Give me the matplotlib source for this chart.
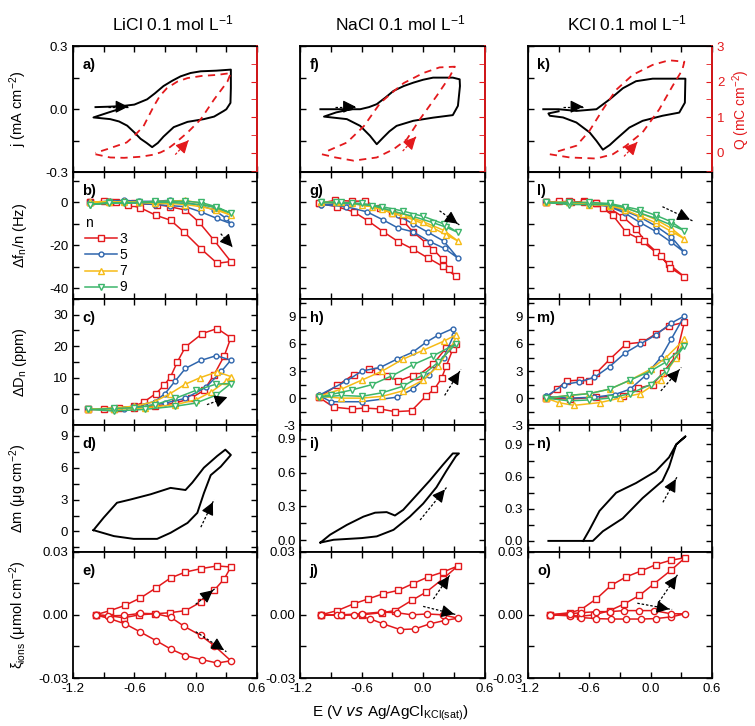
import numpy as np
import matplotlib.pyplot as plt
from matplotlib.ticker import MultipleLocator, FormatStrFormatter

plt.rcParams['font.family'] = ['Liberation Sans', 'DejaVu Sans']
plt.rcParams['mathtext.default'] = 'regular'
plt.rcParams['axes.unicode_minus'] = False

# ---------------- data (E in V) ----------------
salts = ['LiCl', 'NaCl', 'KCl']

# row a: current density j (black) and charge Q (red dashed)
li_j = [(-0.98, 0.010), (-0.85, 0.012), (-0.72, 0.015), (-0.60, 0.022), (-0.475, 0.047), (-0.40, 0.075),
        (-0.315, 0.11), (-0.23, 0.135), (-0.148, 0.156), (-0.05, 0.172), (0.049, 0.18), (0.20, 0.183),
        (0.344, 0.188), (0.344, 0.10), (0.34, 0.03), (0.30, 0.0), (0.275, -0.008), (0.18, -0.035),
        (0.08, -0.047), (-0.08, -0.06), (-0.215, -0.085), (-0.315, -0.13), (-0.37, -0.16), (-0.426, -0.18),
        (-0.48, -0.16), (-0.54, -0.14), (-0.60, -0.11), (-0.67, -0.078), (-0.75, -0.058), (-0.836, -0.047),
        (-1.0, -0.039), (-0.85, -0.015), (-0.72, 0.005)]
na_j = [(-1.005, 0.0), (-0.80, 0.0), (-0.616, 0.0), (-0.53, 0.01), (-0.454, 0.024), (-0.37, 0.055),
        (-0.29, 0.087), (-0.19, 0.11), (-0.097, 0.126), (0.0, 0.14), (0.097, 0.15), (0.29, 0.15),
        (0.357, 0.142), (0.36, 0.11), (0.34, 0.016), (0.29, -0.028), (0.097, -0.04), (-0.097, -0.055),
        (-0.26, -0.079), (-0.33, -0.105), (-0.39, -0.134), (-0.454, -0.166), (-0.52, -0.126),
        (-0.616, -0.079), (-0.746, -0.047), (-0.97, -0.035), (-0.85, -0.015), (-0.70, 0.0)]
k_j = [(-1.05, 0.0), (-0.90, 0.0), (-0.726, -0.008), (-0.53, 0.0), (-0.40, 0.047), (-0.27, 0.10),
       (-0.143, 0.133), (0.02, 0.145), (0.34, 0.145), (0.335, 0.031), (0.28, -0.016), (0.116, -0.031),
       (-0.078, -0.055), (-0.208, -0.087), (-0.337, -0.142), (-0.40, -0.17), (-0.467, -0.192),
       (-0.53, -0.15), (-0.597, -0.11), (-0.726, -0.063), (-0.857, -0.039), (-0.986, -0.031),
       (-1.0, -0.02), (-0.90, -0.01)]

li_Q = [(-0.98, -0.04), (-0.836, -0.13), (-0.70, -0.14), (-0.54, -0.11), (-0.43, -0.06), (-0.345, 0.01),
        (-0.28, 0.10), (-0.215, 0.24), (-0.08, 0.57), (0.049, 0.94), (0.18, 1.5), (0.31, 2.0),
        (0.344, 2.24), (0.21, 2.19), (0.06, 2.16), (-0.08, 2.1), (-0.18, 2.0), (-0.28, 1.82),
        (-0.35, 1.6), (-0.41, 1.31), (-0.51, 0.75), (-0.60, 0.48), (-0.676, 0.29), (-0.87, 0.1), (-0.98, 0.0)]
na_Q = [(-0.99, -0.04), (-0.857, -0.13), (-0.68, -0.22), (-0.454, -0.13), (-0.29, 0.1), (-0.16, 0.38),
        (-0.033, 0.94), (0.13, 1.59), (0.26, 2.14), (0.31, 2.42), (0.16, 2.4), (0.0, 2.24), (-0.19, 1.96),
        (-0.30, 1.7), (-0.42, 1.4), (-0.58, 0.75), (-0.746, 0.29), (-0.97, 0.01)]
k_Q = [(-0.986, -0.04), (-0.79, -0.13), (-0.53, -0.16), (-0.37, -0.04), (-0.24, 0.2), (-0.08, 0.57),
       (0.084, 1.22), (0.213, 1.87), (0.31, 2.33), (0.33, 2.56), (0.18, 2.6), (0.02, 2.47),
       (-0.175, 2.19), (-0.337, 1.77), (-0.467, 1.22), (-0.60, 0.61), (-0.726, 0.2), (-0.92, 0.03)]

# row b: frequency shift per overtone n = 3, 5, 7, 9
li_f3 = [(-1.03, 0), (-0.9, 0.5), (-0.78, 0), (-0.66, -1), (-0.54, -2.5), (-0.39, -6), (-0.246, -8.3),
         (-0.115, -13.8), (0.05, -21.6), (0.21, -28.4), (0.344, -27.6), (0.18, -17.7), (0.03, -9.1),
         (-0.1, -3.6), (-0.25, -2), (-0.38, -1), (-0.6, -0.5), (-0.84, 0), (-1.03, 0)]
li_f5 = [(-1.03, 0), (-0.85, 0.5), (-0.7, 0), (-0.55, -0.5), (-0.4, -1), (-0.25, -1.5), (-0.1, -2),
         (0.05, -4.4), (0.21, -7.5), (0.344, -9.9), (0.3, -7.5), (0.18, -3.5), (0.05, -1.5), (-0.1, 0),
         (-0.25, 1), (-0.4, 0.5), (-0.55, 0.5), (-0.7, 1), (-0.85, 0.5), (-1.03, 0)]
li_f7 = [(-1.03, 0), (-0.85, 0), (-0.7, 0.5), (-0.55, 0), (-0.4, -0.5), (-0.25, -0.5), (-0.1, -1),
         (0.05, -2), (0.2, -3.5), (0.344, -6), (0.2, -2.5), (0.05, -0.5), (-0.1, 1), (-0.25, 0.5),
         (-0.4, 0.5), (-0.55, 0), (-0.7, 0), (-0.85, 0.5), (-1.03, 0)]
li_f9 = [(-1.03, -1), (-0.85, 0), (-0.7, -0.5), (-0.55, 0), (-0.4, 0), (-0.25, 0), (-0.1, -0.5),
         (0.05, -1), (0.2, -2.5), (0.344, -5), (0.2, -2), (0.05, 0), (-0.1, 0.5), (-0.25, 0.5),
         (-0.4, 0.5), (-0.55, 0), (-0.7, 0), (-0.85, -0.5), (-1.03, -1)]
na_f3 = [(-1.02, -0.5), (-0.84, -2), (-0.68, -4.4), (-0.536, -8.7), (-0.39, -13.7), (-0.244, -18.3),
         (-0.1, -21.8), (0.05, -26), (0.194, -29.9), (0.32, -34.5), (0.25, -31), (0.19, -26.5),
         (0.1, -22), (0.03, -19), (-0.1, -13.7), (-0.195, -8.7), (-0.3, -5), (-0.42, -2.8),
         (-0.57, 0.6), (-0.7, 0.6), (-0.86, 1), (-1.02, -0.5)]
na_f5 = [(-1.0, -1), (-0.75, -2), (-0.55, -4.4), (-0.39, -8.2), (-0.244, -12), (-0.1, -13.7),
         (0.065, -18.3), (0.21, -21.5), (0.34, -26), (0.2, -18), (0.05, -14), (-0.1, -10), (-0.25, -6),
         (-0.4, -3), (-0.6, -1), (-0.8, -0.5), (-1.0, -1)]
na_f7 = [(-1.0, 0), (-0.85, 0), (-0.7, -0.5), (-0.5, -2), (-0.3, -5), (-0.1, -8), (0.1, -12),
         (0.22, -15), (0.34, -18), (0.2, -13), (0.0, -9), (-0.2, -5.5), (-0.4, -3), (-0.6, -1),
         (-0.8, 0), (-1.0, 0)]
na_f9 = [(-1.0, 0), (-0.85, 0), (-0.7, -0.5), (-0.5, -1.5), (-0.3, -4), (-0.1, -6.5), (0.1, -9.5),
         (0.22, -11.5), (0.34, -14), (0.2, -10), (0.0, -6.5), (-0.2, -4), (-0.4, -2), (-0.6, -0.5),
         (-0.8, 0), (-1.0, 0)]
k_f3 = [(-1.02, 0), (-0.9, 0.5), (-0.78, 0), (-0.65, 0.5), (-0.53, -0.5), (-0.47, -2.8), (-0.37, -6),
        (-0.24, -13.9), (-0.11, -17), (0.05, -23.3), (0.18, -28.8), (0.33, -34.7), (0.19, -30.5),
        (0.1, -25), (-0.06, -18), (-0.14, -12.2), (-0.27, -6.8), (-0.4, -2.8), (-0.53, -0.5),
        (-0.65, 0), (-0.8, 0.5), (-1.02, 0)]
k_f5 = [(-1.02, 0), (-0.8, -0.5), (-0.6, -0.5), (-0.4, -2), (-0.25, -5), (-0.1, -9.5), (0.05, -13.5),
        (0.2, -18.5), (0.33, -23.3), (0.2, -16), (0.05, -11), (-0.1, -7), (-0.25, -4), (-0.4, -1.5),
        (-0.6, -0.5), (-0.8, 0), (-1.02, 0)]
k_f7 = [(-1.02, 0), (-0.8, 0), (-0.6, -1), (-0.4, -1.5), (-0.25, -3.5), (-0.1, -6.5), (0.05, -9.5),
        (0.2, -13.5), (0.33, -17), (0.2, -12), (0.05, -8), (-0.1, -5), (-0.25, -2.5), (-0.4, -1),
        (-0.6, 0), (-0.8, 0), (-1.02, 0)]
k_f9 = [(-1.02, 0), (-0.8, -1), (-0.6, -1), (-0.4, -1), (-0.25, -2.5), (-0.1, -5), (0.05, -7.5),
        (0.2, -10.5), (0.33, -13.2), (0.2, -9), (0.05, -6), (-0.1, -3.5), (-0.25, -2), (-0.4, -0.5),
        (-0.6, 0), (-0.8, 0), (-1.02, 0)]

# row c: dissipation shift per overtone
li_d3 = [(-1.05, 0), (-0.9, 0.2), (-0.75, 0.5), (-0.6, 1), (-0.51, 2.3), (-0.39, 5), (-0.31, 7.6),
         (-0.246, 10.3), (-0.18, 15), (-0.1, 19.8), (0.065, 24), (0.21, 25.6), (0.344, 22.7),
         (0.28, 17), (0.18, 11), (0.08, 6), (-0.05, 3.5), (-0.2, 2), (-0.4, 1), (-0.6, 0.5),
         (-0.8, 0), (-1.05, 0)]
li_d5 = [(-1.05, 0), (-0.7, 0.2), (-0.5, 1), (-0.3, 2), (-0.1, 3.5), (0.1, 7), (0.25, 12), (0.344, 15.6),
         (0.2, 17), (0.05, 15.5), (-0.1, 13), (-0.2, 9), (-0.3, 5), (-0.4, 2.5), (-0.6, 1), (-0.8, 0.3),
         (-1.05, 0)]
li_d7 = [(-1.05, 0), (-0.8, 0), (-0.5, 0.5), (-0.2, 1.5), (0.0, 3), (0.15, 5.5), (0.3, 9), (0.344, 10.4),
         (0.21, 11.9), (0.04, 10), (-0.1, 8), (-0.25, 5), (-0.4, 2.5), (-0.6, 1), (-0.8, 0.5), (-1.05, 0)]
li_d9 = [(-1.05, 0), (-0.8, -0.5), (-0.5, 0), (-0.2, 1), (0.0, 2), (0.2, 4.5), (0.344, 8.2), (0.2, 8),
         (0.0, 6), (-0.2, 3.5), (-0.4, 1.5), (-0.6, 0.5), (-0.8, 0.3), (-1.05, 0)]
na_d3 = [(-1.02, 0.1), (-0.876, -1.0), (-0.7, -1.2), (-0.57, -1.1), (-0.42, -1.2), (-0.276, -1.5),
         (-0.114, -1.4), (0.03, 0.26), (0.11, 1), (0.18, 2.2), (0.227, 3.6), (0.29, 5.4), (0.32, 6.0),
         (0.227, 5.6), (0.1, 3.8), (-0.05, 2.5), (-0.1, 2.5), (-0.245, 1.9), (-0.35, 2.5), (-0.45, 3.0),
         (-0.53, 3.2), (-0.68, 2.6), (-0.84, 1.4), (-1.02, 0.1)]
na_d5 = [(-1.02, 0.3), (-0.9, -0.4), (-0.6, -0.4), (-0.26, 0.1), (-0.1, 1), (0.06, 2.6), (0.2, 4.5),
         (0.3, 7), (0.29, 7.7), (0.15, 7), (0.03, 6.2), (-0.1, 5.1), (-0.26, 4.3), (-0.42, 3.4),
         (-0.6, 3), (-0.75, 1.9), (-1.02, 0.3)]
na_d7 = [(-1.02, 0.2), (-0.8, 0), (-0.6, 0), (-0.4, 0.2), (-0.2, 0.8), (0, 2), (0.15, 3.6), (0.32, 6.5),
         (0.32, 7), (0.2, 6.3), (0, 5.3), (-0.2, 4.3), (-0.4, 3), (-0.6, 2), (-0.8, 1), (-1.02, 0.2)]
na_d9 = [(-1.02, 0.1), (-0.8, 0.3), (-0.6, 0.2), (-0.4, 0.6), (-0.2, 1.3), (0, 2.6), (0.15, 4), (0.32, 6),
         (0.1, 4.7), (-0.1, 3.7), (-0.3, 2.5), (-0.5, 1.5), (-0.7, 0.9), (-0.9, 0.4), (-1.02, 0.1)]
k_d3 = [(-1.02, 0), (-0.79, -0.1), (-0.53, 0.1), (-0.27, 0.25), (-0.12, 1.1), (0.02, 1.5), (0.12, 2.8),
        (0.25, 4.7), (0.33, 8.4), (0.18, 8.0), (0.05, 7.1), (-0.08, 6.2), (-0.24, 6.0), (-0.4, 4.3),
        (-0.53, 2.8), (-0.6, 1.9), (-0.69, 2.0), (-0.82, 1.9), (-0.92, 1.0), (-1.02, 0)]
k_d5 = [(-1.02, 0.2), (-0.8, 0), (-0.55, 0.1), (-0.35, 0.4), (-0.2, 1), (-0.05, 2.5), (0.1, 4.5),
        (0.2, 6.5), (0.33, 9.1), (0.2, 8.3), (0.05, 7), (-0.1, 6), (-0.25, 5), (-0.4, 3.5), (-0.55, 2.3),
        (-0.7, 1.8), (-0.85, 1.5), (-1.02, 0.2)]
k_d7 = [(-1.02, 0), (-0.9, -0.5), (-0.75, -0.8), (-0.5, -0.5), (-0.3, 0), (-0.1, 0.5), (0.1, 2),
        (0.25, 4.5), (0.33, 6.5), (0.15, 4.5), (0, 3.2), (-0.2, 2), (-0.4, 1), (-0.6, 0.5), (-0.8, 0.3),
        (-1.02, 0)]
k_d9 = [(-1.02, 0), (-0.8, -0.3), (-0.6, -0.2), (-0.4, 0), (-0.2, 0.5), (0, 1.5), (0.15, 3), (0.33, 5.8),
        (0.15, 4), (0, 3), (-0.2, 2), (-0.4, 1), (-0.6, 0.5), (-0.8, 0.3), (-1.02, 0)]

# row d: mass change
li_m = [(-1.0, 0.12), (-0.9, 1.3), (-0.77, 2.7), (-0.64, 3.0), (-0.44, 3.5), (-0.246, 4.1), (-0.1, 3.9),
        (-0.033, 4.6), (0.08, 6.0), (0.21, 7.1), (0.29, 7.7), (0.344, 7.2), (0.245, 6.1), (0.147, 5.3),
        (0.08, 3.6), (0.016, 1.75), (-0.08, 0.8), (-0.246, -0.13), (-0.377, -0.7), (-0.607, -0.7),
        (-0.8, -0.44), (-1.0, 0.12)]
na_m = [(-1.005, -0.02), (-0.91, 0.05), (-0.746, 0.137), (-0.584, 0.21), (-0.47, 0.245), (-0.357, 0.25),
        (-0.276, 0.22), (-0.195, 0.27), (-0.065, 0.4), (0.065, 0.53), (0.194, 0.67), (0.29, 0.77),
        (0.35, 0.77), (0.32, 0.745), (0.227, 0.615), (0.13, 0.47), (0.0, 0.325), (-0.13, 0.21),
        (-0.29, 0.093), (-0.454, 0.035), (-0.6, 0.02), (-0.876, 0.005), (-1.005, -0.02)]
k_m = [(-1.0, 0), (-0.565, 0), (-0.467, 0.09), (-0.273, 0.21), (-0.078, 0.4), (0.116, 0.56), (0.18, 0.69),
       (0.25, 0.9), (0.34, 0.975), (0.25, 0.9), (0.18, 0.78), (0.05, 0.65), (-0.143, 0.54),
       (-0.337, 0.45), (-0.5, 0.28), (-0.6, 0.1), (-0.66, 0)]

# row e: ionic fluxes (squares and circles)
li_xs = [(-0.98, 0), (-0.836, -0.0005), (-0.705, -0.0014), (-0.55, 0.0), (-0.4, 0.0005), (-0.25, 0.001),
         (-0.1, 0.002), (0.049, 0.006), (0.18, 0.0116), (0.28, 0.0171), (0.344, 0.0227), (0.21, 0.0232),
         (0.049, 0.0219), (-0.1, 0.0203), (-0.246, 0.0175), (-0.39, 0.0127), (-0.54, 0.008),
         (-0.69, 0.0045), (-0.836, 0.002), (-0.98, 0)]
li_xc = [(-0.98, 0), (-0.86, -0.0005), (-0.7, -0.0003), (-0.54, 0.0007), (-0.39, 0.0005), (-0.246, -0.0011),
         (-0.115, -0.0054), (0.049, -0.0098), (0.18, -0.0146), (0.344, -0.0218), (0.21, -0.0229),
         (0.065, -0.0213), (-0.1, -0.0194), (-0.246, -0.0162), (-0.39, -0.0122), (-0.54, -0.0082),
         (-0.69, -0.0043), (-0.836, -0.0019), (-0.98, 0)]
na_xs = [(-1.0, 0), (-0.8, 0), (-0.6, 0), (-0.405, 0.001), (-0.276, 0.002), (-0.113, 0.0068), (0.03, 0.0108),
         (0.194, 0.0171), (0.34, 0.0232), (0.194, 0.0203), (0.05, 0.018), (-0.1, 0.0148), (-0.244, 0.0116),
         (-0.39, 0.01), (-0.535, 0.0076), (-0.68, 0.0052), (-0.84, 0.002), (-1.0, 0)]
na_xc = [(-1.0, 0), (-0.84, 0), (-0.68, 0), (-0.52, -0.0019), (-0.39, -0.0043), (-0.227, -0.007),
         (-0.08, -0.0067), (0.065, -0.0043), (0.21, -0.0027), (0.34, -0.0016), (0.19, 0), (0.04, 0.0004),
         (-0.11, 0), (-0.26, 0.001), (-0.41, 0.0013), (-0.6, 0.0005), (-0.8, 0), (-1.0, 0)]
k_xs = [(-0.986, 0), (-0.79, 0), (-0.69, -0.0007), (-0.55, 0), (-0.4, 0.002), (-0.256, 0.0052),
        (-0.11, 0.0092), (0.035, 0.0148), (0.198, 0.0211), (0.337, 0.0271), (0.198, 0.0259),
        (0.05, 0.0238), (-0.094, 0.0208), (-0.24, 0.018), (-0.386, 0.014), (-0.53, 0.0076),
        (-0.68, 0.0025), (-0.79, 0.001), (-0.986, 0)]
k_xc = [(-0.986, 0), (-0.79, -0.0005), (-0.68, -0.0013), (-0.53, -0.0018), (-0.386, -0.002),
        (-0.24, -0.002), (-0.094, -0.002), (0.05, -0.0018), (0.198, -0.001), (0.34, 0.0005),
        (0.198, 0.0005), (0.035, 0.002), (-0.11, 0.002), (-0.26, 0.002), (-0.4, 0.0015),
        (-0.53, 0.0015), (-0.68, 0.001), (-0.79, 0.0005), (-0.986, 0)]

overtones = ['3', '5', '7', '9']
ov_colors = ['#e3191c', '#2f66ad', '#f6bb16', '#3cb56b']
ov_markers = ['s', 'o', '^', 'v']
ov_msize = [5, 3.5, 5, 5]
red = '#e3191c'

j_data = [li_j, na_j, k_j]
q_data = [li_Q, na_Q, k_Q]
f_data = [[li_f3, li_f5, li_f7, li_f9], [na_f3, na_f5, na_f7, na_f9], [k_f3, k_f5, k_f7, k_f9]]
d_data = [[li_d3, li_d5, li_d7, li_d9], [na_d3, na_d5, na_d7, na_d9], [k_d3, k_d5, k_d7, k_d9]]
m_data = [li_m, na_m, k_m]
xs_data = [li_xs, na_xs, k_xs]
xc_data = [li_xc, na_xc, k_xc]


def xy(pts):
    a = np.array(pts, dtype=float)
    return a[:, 0], a[:, 1]


def arrow(ax, x0, y0, x1, y1, color='k'):
    # dashed shaft plus a solid filled head
    ax.plot([x0, x1], [y0, y1], color=color, lw=0.9, ls=(0, (2, 1.5)))
    ax.annotate('', xy=(x1, y1), xytext=(x0 + 0.75 * (x1 - x0), y0 + 0.75 * (y1 - y0)),
                arrowprops=dict(arrowstyle='-|>', color=color, lw=0.9, mutation_scale=19))


fig, axes = plt.subplots(5, 3, figsize=(7.55, 7.26), dpi=100, sharex=True)
fig.subplots_adjust(left=0.0967, right=0.943, top=0.9366, bottom=0.0661, wspace=0.236, hspace=0)

letters = 'abcdefghijklmno'

for c in range(3):
    # row a
    ax = axes[0, c]
    x, y = xy(j_data[c])
    ax.plot(x, y, color='k', lw=1.4)
    ax.set_ylim(-0.3, 0.3)
    ax.yaxis.set_major_locator(MultipleLocator(0.3))
    ax.yaxis.set_minor_locator(MultipleLocator(0.15))
    ax.yaxis.set_major_formatter(FormatStrFormatter('%.1f'))
    ax2 = ax.twinx()
    x, y = xy(q_data[c])
    ax2.plot(x, y, color=red, lw=1.3, ls=(0, (4, 3)))
    ax2.set_ylim(-0.55, 3)
    ax2.yaxis.set_major_locator(MultipleLocator(1))
    ax2.yaxis.set_minor_locator(MultipleLocator(0.5))
    ax2.spines['right'].set_color(red)
    ax2.spines['right'].set_linewidth(1.3)
    ax2.tick_params(axis='y', which='both', colors=red, direction='in', length=4, labelsize=9.5)
    if c < 2:
        ax2.tick_params(axis='y', labelright=False)
    else:
        ax2.set_ylabel('Q (mC cm$^{-2}$)', color=red, fontsize=10)
        ax2.yaxis.set_label_coords(1.1, 0.5)
    arrow(ax, -0.86, 0.012, -0.66, 0.012)
    qa = [(-0.2, -0.05, -0.07, 0.35), (-0.2, 0.05, -0.07, 0.45), (-0.26, -0.1, -0.13, 0.3)][c]
    arrow(ax2, *qa, color=red)

    # row b
    ax = axes[1, c]
    for k in range(4):
        x, y = xy(f_data[c][k])
        ax.plot(x, y, color=ov_colors[k], lw=1.1, marker=ov_markers[k], ms=ov_msize[k],
                mfc='white', mec=ov_colors[k], mew=1.0, label=overtones[k])
    ax.set_ylim(-45, 14)
    ax.yaxis.set_major_locator(MultipleLocator(20))
    ax.yaxis.set_minor_locator(MultipleLocator(10))
    ba = [(0.245, -14.6, 0.36, -20.8), (0.16, -3.9, 0.36, -10.7), (0.116, -2, 0.41, -8.6)][c]
    arrow(ax, *ba)

    # row c
    ax = axes[2, c]
    for k in range(4):
        x, y = xy(d_data[c][k])
        ax.plot(x, y, color=ov_colors[k], lw=1.1, marker=ov_markers[k], ms=ov_msize[k],
                mfc='white', mec=ov_colors[k], mew=1.0)
    if c == 0:
        ax.set_ylim(-5, 35)
        ax.yaxis.set_major_locator(MultipleLocator(10))
        ax.yaxis.set_minor_locator(MultipleLocator(5))
    else:
        ax.set_ylim(-3, 11)
        ax.yaxis.set_major_locator(MultipleLocator(3))
        ax.yaxis.set_minor_locator(MultipleLocator(1.5))
    ca = [(0.11, 1.5, 0.31, 3.9), (0.21, 0.3, 0.37, 3.2), (0.1, 0.8, 0.3, 3.4)][c]
    arrow(ax, *ca)

    # row d
    ax = axes[3, c]
    x, y = xy(m_data[c])
    ax.plot(x, y, color='k', lw=1.4)
    if c == 0:
        ax.set_ylim(-1.9, 10)
        ax.yaxis.set_major_locator(MultipleLocator(3))
        ax.yaxis.set_minor_locator(MultipleLocator(1.5))
    else:
        ax.set_ylim(-0.1, 1.02 if c == 1 else 1.08)
        ax.yaxis.set_major_locator(MultipleLocator(0.3))
        ax.yaxis.set_minor_locator(MultipleLocator(0.15))
        ax.yaxis.set_major_formatter(FormatStrFormatter('%.1f'))
    da = [(0.05, 0.4, 0.18, 3.0), (-0.03, 0.18, 0.23, 0.47), (0.12, 0.36, 0.26, 0.6)][c]
    arrow(ax, *da)

    # row e
    ax = axes[4, c]
    x, y = xy(xs_data[c])
    ax.plot(x, y, color=red, lw=1.1, marker='s', ms=5, mfc='white', mec=red, mew=1.0)
    x, y = xy(xc_data[c])
    ax.plot(x, y, color=red, lw=1.1, marker='o', ms=4.5, mfc='white', mec=red, mew=1.0)
    ax.set_ylim(-0.03, 0.03)
    ax.yaxis.set_major_locator(MultipleLocator(0.03))
    ax.yaxis.set_minor_locator(MultipleLocator(0.015))
    ax.yaxis.set_major_formatter(FormatStrFormatter('%.2f'))
    ea = [[(0.0, 0.005, 0.19, 0.0125), (0.0, -0.008, 0.3, -0.0175)],
          [(0.1, 0.0075, 0.27, 0.0195), (0.0, 0.004, 0.33, 0.0)],
          [(0.08, 0.006, 0.27, 0.0195), (-0.13, 0.0055, 0.21, 0.0025)]][c]
    for a in ea:
        arrow(ax, *a)

    axes[0, c].set_title(salts[c] + ' 0.1 mol L$^{-1}$', fontsize=12.5, pad=11, x=0.54)

for r in range(5):
    for c in range(3):
        ax = axes[r, c]
        ax.set_xlim(-1.2, 0.6)
        ax.xaxis.set_major_locator(MultipleLocator(0.6))
        ax.xaxis.set_minor_locator(MultipleLocator(0.3))
        ax.xaxis.set_major_formatter(FormatStrFormatter('%.1f'))
        ax.tick_params(which='both', direction='in', top=True, right=(r != 0), length=4,
                       width=1.0, labelsize=9.5)
        for s in ax.spines.values():
            s.set_linewidth(1.3)
        if r in (0, 1) and c > 0:
            ax.tick_params(axis='y', labelleft=False)
        ax.text(0.05, 0.85, letters[c * 5 + r] + ')', transform=ax.transAxes,
                fontsize=10.5, fontweight='bold', va='center', ha='left')

ylabels = ['j (mA cm$^{-2}$)', 'Δf$_n$/n (Hz)', 'ΔD$_n$ (ppm)', 'Δm (μg cm$^{-2}$)',
           'ξ$_{ions}$ (μmol cm$^{-2}$)']
for r in range(5):
    axes[r, 0].set_ylabel(ylabels[r], fontsize=10.5)
    axes[r, 0].yaxis.set_label_coords(-0.24, 0.5)

leg = axes[1, 0].legend(title='n', loc='upper left', bbox_to_anchor=(0.02, 0.72), frameon=False,
                        fontsize=10, title_fontsize=10, handlelength=2.3, handletextpad=0.2,
                        labelspacing=0.15, borderpad=0.1, alignment='left')

fig.text(0.517, 0.018, 'E (V $\\mathit{vs}$ Ag/AgCl$_{KCl(sat)}$)', ha='center', va='center', fontsize=11)

fig.savefig('out.png', dpi=100)
